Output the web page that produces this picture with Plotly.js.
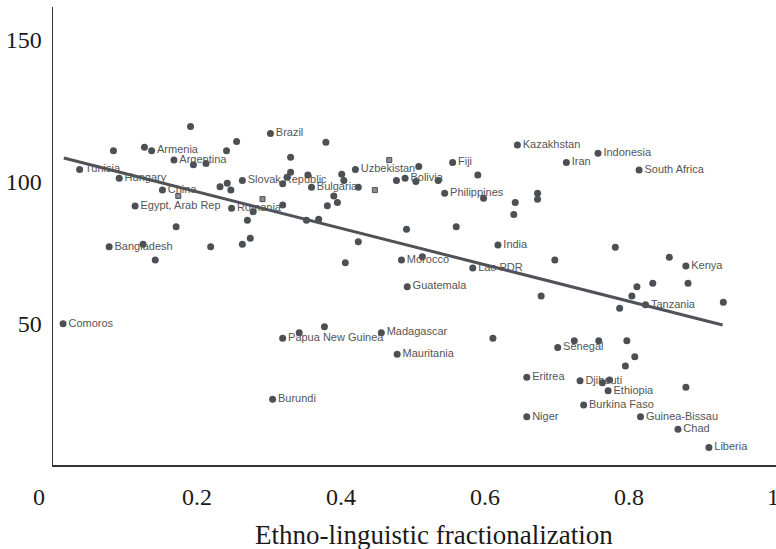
<!DOCTYPE html>
<html>
<head>
<meta charset="utf-8">
<script src="https://cdn.plot.ly/plotly-3.0.1.min.js"></script>
<style>
  html, body { margin: 0; padding: 0; background: #fff; overflow: hidden; }
  #chart { width: 776px; height: 549px; }
</style>
</head>
<body>
<div id="chart"></div>
<script>
// Labelled countries: ethno-linguistic fractionalization vs. index value
const countries = [
  "Tunisia", "Hungary", "China", "Argentina", "Armenia", "Egypt, Arab Rep", "Romania",
  "Bangladesh", "Comoros", "Brazil", "Slovak Republic", "Bulgaria", "Uzbekistan",
  "Bolivia", "Morocco", "Fiji", "Philippines", "Kazakhstan", "Iran", "Indonesia",
  "South Africa", "India", "Lao PDR", "Guatemala", "Kenya", "Tanzania",
  "Papua New Guinea", "Madagascar", "Mauritania", "Senegal", "Eritrea", "Djibouti",
  "Ethiopia", "Burkina Faso", "Niger", "Guinea-Bissau", "Chad", "Liberia", "Burundi"
];
const countryX = [
  0.037, 0.092, 0.152, 0.168, 0.137, 0.114, 0.248,
  0.078, 0.014, 0.302, 0.263, 0.359, 0.420,
  0.489, 0.484, 0.555, 0.544, 0.645, 0.713, 0.757,
  0.814, 0.618, 0.583, 0.492, 0.879, 0.823,
  0.319, 0.456, 0.478, 0.701, 0.658, 0.732,
  0.771, 0.737, 0.658, 0.816, 0.868, 0.911, 0.305
];
const countryY = [
  104.3, 101.2, 97.0, 107.6, 110.9, 91.4, 90.6,
  77.0, 49.8, 117.0, 100.4, 98.0, 104.3,
  101.2, 72.3, 106.7, 95.9, 112.9, 106.7, 110.0,
  104.1, 77.6, 69.5, 62.9, 70.2, 56.5,
  44.7, 46.7, 39.1, 41.5, 31.0, 29.7,
  26.2, 21.2, 17.0, 17.0, 12.6, 6.2, 23.2
];

// Unlabelled countries
const otherX = [
  0.191, 0.255, 0.084, 0.127, 0.241, 0.195, 0.2125, 0.232, 0.242, 0.247, 0.171, 0.270,
  0.125, 0.142, 0.219, 0.263, 0.274,
  0.379, 0.330, 0.330, 0.354, 0.401, 0.325, 0.319, 0.404, 0.424, 0.477, 0.504, 0.508,
  0.390, 0.395, 0.381, 0.319, 0.278, 0.352, 0.369, 0.424, 0.491, 0.406, 0.513,
  0.590, 0.535, 0.598, 0.642, 0.673, 0.673, 0.640, 0.560, 0.697, 0.781, 0.856,
  0.678, 0.342, 0.377, 0.611,
  0.811, 0.833, 0.882, 0.804, 0.787, 0.931, 0.724, 0.758, 0.797, 0.808, 0.795,
  0.763, 0.773, 0.879
];
const otherY = [
  119.4, 114.1, 110.9, 112.1, 110.9, 105.9, 106.4, 98.2, 99.4, 97.0, 84.1, 86.4,
  77.9, 72.3, 77.0, 77.9, 80.0,
  113.9, 108.6, 103.3, 102.3, 102.6, 101.5, 99.2, 100.4, 98.0, 100.4, 100.0, 105.3,
  94.9, 92.6, 91.5, 91.7, 89.4, 86.4, 86.7, 78.8, 83.2, 71.4, 73.5,
  102.3, 100.4, 94.1, 92.6, 95.9, 93.8, 88.4, 84.1, 72.3, 76.8, 73.3,
  59.6, 46.7, 48.8, 44.7,
  62.9, 64.1, 64.1, 59.6, 55.3, 57.4, 43.8, 43.8, 43.8, 38.2, 34.9,
  29.0, 30.0, 27.4
];

// Observations drawn with square markers
const squareX = [0.467, 0.447, 0.291, 0.174];
const squareY = [107.6, 97.0, 93.8, 94.9];

// Fitted line end points
const fitX = [0.015, 0.930];
const fitY = [108.3, 49.4];

// Axis ticks
const xTickVals = [0.2, 0.4, 0.6, 0.8, 1];
const xTickText = ["0.2", "0.4", "0.6", "0.8", "1"];
const yTickVals = [50, 100, 150];
const yTickText = ["50", "100", "150"];
const xTitle = "Ethno-linguistic fractionalization";

const dotColor = "#4b5055";
const labelFont = { family: "Liberation Sans, Arial, sans-serif", size: 11, color: "#555555" };
const serif = "Liberation Serif, Times New Roman, serif";

const traces = [
  {
    type: "scatter", mode: "markers", x: otherX, y: otherY,
    marker: { size: 7, color: dotColor }, hoverinfo: "skip", cliponaxis: false
  },
  {
    type: "scatter", mode: "markers", x: squareX, y: squareY,
    marker: { size: 5, symbol: "square", color: "#8a8e92", line: { color: "#4b5055", width: 1 } },
    hoverinfo: "skip", cliponaxis: false
  },
  {
    type: "scatter", mode: "markers+text", x: countryX, y: countryY, text: countries,
    textposition: "middle right", textfont: labelFont,
    marker: { size: 7, color: dotColor }, hoverinfo: "skip", cliponaxis: false
  },
  {
    type: "scatter", mode: "lines", x: fitX, y: fitY,
    line: { color: "#4f5357", width: 3 }, hoverinfo: "skip"
  }
];

const layout = {
  width: 776, height: 549,
  margin: { l: 53, r: 0, t: 7, b: 84, pad: 0 },
  paper_bgcolor: "#ffffff", plot_bgcolor: "#ffffff",
  showlegend: false,
  font: { family: serif, color: "#1a1a1a" },
  xaxis: {
    range: [0, 1.00417], showgrid: false, zeroline: false,
    showline: true, linecolor: "#333333", linewidth: 1.6,
    ticks: "", tickmode: "array", tickvals: xTickVals, ticktext: xTickText,
    tickfont: { family: serif, size: 24, color: "#1a1a1a" },
    ticklabelstandoff: 10, ticklabeloverflow: "allow"
  },
  yaxis: {
    range: [0, 161.6], showgrid: false, zeroline: false,
    showline: true, linecolor: "#333333", linewidth: 1.4,
    ticks: "", tickmode: "array", tickvals: yTickVals, ticktext: yTickText,
    tickfont: { family: serif, size: 24, color: "#1a1a1a" },
    ticklabelstandoff: 5
  },
  annotations: [
    {
      text: "0", xref: "paper", yref: "paper", x: -0.0194, y: -0.0699,
      xanchor: "center", yanchor: "middle", showarrow: false,
      font: { family: serif, size: 24, color: "#1a1a1a" }
    },
    {
      text: xTitle, xref: "paper", yref: "paper", x: 0.5263, y: -0.153,
      xanchor: "center", yanchor: "middle", showarrow: false,
      font: { family: serif, size: 27, color: "#1a1a1a" }
    }
  ]
};

Plotly.newPlot("chart", traces, layout, { displayModeBar: false, staticPlot: true });
</script>
</body>
</html>
